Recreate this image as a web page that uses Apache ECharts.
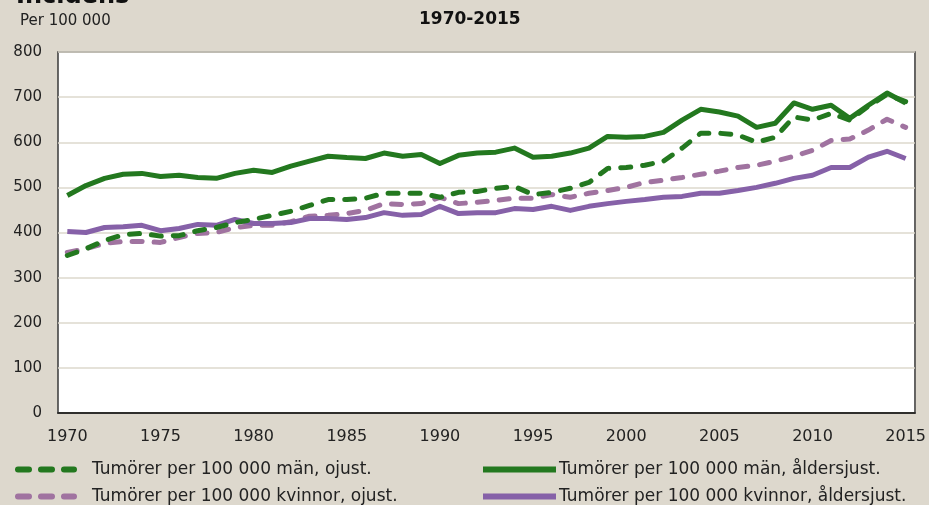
<!DOCTYPE html>
<html><head><meta charset="utf-8">
<script src="https://cdn.jsdelivr.net/npm/echarts@6/dist/echarts.min.js"></script>
<style>html,body{margin:0;padding:0;background:#ddd8cd;}#c{width:929px;height:505px;}</style>
</head><body><div id="c"></div>
<script>
const years = [];
for (let y = 1970; y <= 2015; y++) years.push(String(y));
const menUnadj = [349,364,382,395,398,392,393,404,411,422,429,438,447,460,473,473,476,487,487,487,478,489,491,498,502,484,489,498,511,542,544,549,558,587,620,620,616,600,611,656,649,664,649,680,706,690];
const menAdj = [482,504,520,529,531,524,527,522,520,531,538,533,547,558,569,566,564,576,569,573,553,571,576,578,587,567,569,576,587,613,611,613,622,649,673,667,658,633,642,687,673,682,653,682,709,687];
const womenUnadj = [356,364,376,380,380,378,389,398,400,411,416,416,424,436,438,442,449,464,462,464,478,464,467,471,476,476,484,478,487,493,500,511,516,522,529,536,544,549,558,569,582,604,607,627,651,633];
const womenAdj = [402,400,411,413,416,404,409,418,416,429,420,420,422,431,431,429,433,444,438,440,458,442,444,444,453,451,458,449,458,464,469,473,478,480,487,487,493,500,509,520,527,544,544,567,580,564];
const names = ['Tumörer per 100 000 män, ojust.','Tumörer per 100 000 kvinnor, ojust.','Tumörer per 100 000 män, åldersjust.','Tumörer per 100 000 kvinnor, åldersjust.'];
const green = '#23781f', purple = '#8661a8', purpleLight = '#a073a0';
const font = 'DejaVu Sans';
const dashIcon = 'path://M3,0h11a3,3 0 0 1 0,6h-11a3,3 0 0 1 0,-6z M26,0h11a3,3 0 0 1 0,6h-11a3,3 0 0 1 0,-6z M49,0h10a3,3 0 0 1 0,6h-10a3,3 0 0 1 0,-6z';
const chart = echarts.init(document.getElementById('c'));
function ser(name, data, color, dashed, z) {
  return {name, type:'line', data, symbol:'none', z,
    lineStyle:{color, width:5, type: dashed ? [10,12] : 'solid', cap: dashed ? 'round' : 'butt', join:'round'},
    itemStyle:{color}};
}
function leg(name, icon, left, top, w, pad) {
  return {data:[{name, icon}], left, top, itemWidth:w, itemHeight:6, symbolKeepAspect:false,
    textStyle:{fontSize:17, color:'#222', padding:[0,0,0,pad]}};
}
chart.setOption({
  animation:false,
  backgroundColor:'#ddd8cd',
  textStyle:{fontFamily:font},
  graphic:[
    {type:'text', left:16, top:-15, style:{text:'Incidens', font:'bold 24px '+font, fill:'#111'}},
    {type:'text', left:20, top:14, style:{text:'Per 100 000', font:'15px '+font, fill:'#222'}},
    {type:'text', left:419, top:11, style:{text:'1970-2015', font:'bold 17px '+font, fill:'#111'}}
  ],
  grid:{left:58, right:13, top:52, bottom:92, show:true, backgroundColor:'#fff', borderColor:'#3a3a3a', borderWidth:1.5},
  xAxis:{type:'category', data:years, boundaryGap:true,
    axisLine:{lineStyle:{color:'#000', width:1.5}},
    axisTick:{interval:4, inside:true, length:5, lineStyle:{color:'#333'}},
    axisLabel:{interval:4, color:'#222', fontSize:16, margin:16}},
  yAxis:{type:'value', min:0, max:800, interval:100,
    axisLine:{show:false}, axisTick:{show:false},
    axisLabel:{color:'#222', fontSize:15, margin:16},
    splitLine:{lineStyle:{color:'#ddd8cd', width:1.5}}},
  legend:[
    leg(names[0], dashIcon, 10, 456, 62, 10),
    leg(names[1], dashIcon, 10, 483, 62, 10),
    leg(names[2], 'rect', 478, 456, 73, -2),
    leg(names[3], 'rect', 478, 483, 73, -2)
  ],
  series:[
    ser(names[1], womenUnadj, purpleLight, true, 2),
    ser(names[3], womenAdj, purple, false, 3),
    ser(names[0], menUnadj, green, true, 4),
    ser(names[2], menAdj, green, false, 5)
  ]
});
</script></body></html>
